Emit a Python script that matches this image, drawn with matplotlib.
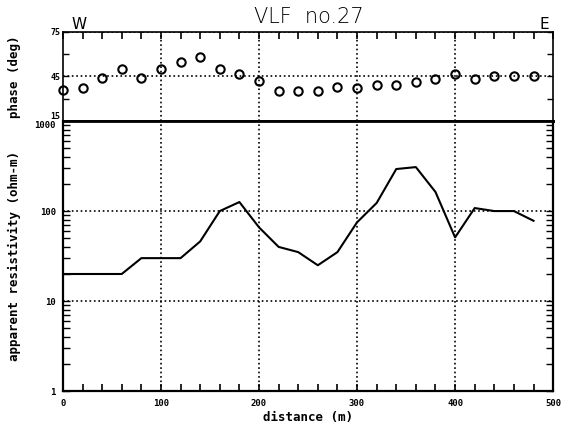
import numpy as np
import matplotlib
matplotlib.use("Agg")
import matplotlib.pyplot as plt
from matplotlib.ticker import FixedLocator, LogLocator, NullFormatter

# station positions (m)
distance = [0, 20, 40, 60, 80, 100, 120, 140, 160, 180, 200, 220, 240,
            260, 280, 300, 320, 340, 360, 380, 400, 420, 440, 460, 480]

# phase (deg)
phase = [36, 37, 44, 50, 44, 50, 55, 58, 50, 47, 42, 35, 35,
         35, 38, 37, 39, 39, 41, 43, 47, 43, 45, 45, 45]

# apparent resistivity (ohm-m)
resistivity = [20, 20, 20, 20, 30, 30, 30, 46, 100, 126, 66, 40, 35,
               25, 35, 75, 123, 293, 308, 163, 51, 108, 100, 100, 78]

x_ticks = [0, 100, 200, 300, 400, 500]
phase_ticks = [15, 45, 75]
res_ticks = [1, 10, 100, 1000]

mono = {'family': 'DejaVu Sans Mono', 'weight': 'bold'}

fig = plt.figure(figsize=(5.72, 4.37), dpi=100)
ax1 = fig.add_axes([0.110, 0.723, 0.857, 0.204])
ax2 = fig.add_axes([0.110, 0.105, 0.857, 0.618])

# phase panel
ax1.plot(distance, phase, 'o', mfc='none', mec='black', ms=6, mew=1.5,
         clip_on=False, zorder=3)
ax1.set_xlim(0, 500)
ax1.set_ylim(15, 75)
ax1.set_yticks(phase_ticks)
ax1.set_yticklabels([str(v) for v in phase_ticks], fontsize=6, **mono)
ax1.yaxis.set_minor_locator(FixedLocator([30, 60]))
ax1.set_xticks([100, 200, 300, 400])
ax1.xaxis.set_minor_locator(FixedLocator(np.arange(0, 501, 20)))
ax1.tick_params(axis='x', which='both', direction='in', top=True,
                bottom=False, labelbottom=False, length=5, width=1.2)
ax1.tick_params(axis='y', which='both', direction='in', right=True,
                length=4, width=1, pad=2)
ax1.grid(True, which='major', linestyle=':', color='black', linewidth=1.2)
ax1.set_ylabel('phase (deg)', fontsize=9, **mono)
for s in ax1.spines.values():
    s.set_linewidth(1.2)
ax1.spines['bottom'].set_linewidth(2)
ax1.get_yticklabels()[0].set_va('bottom')

fig.text(0.54, 0.962, 'VLF  no.27', ha='center', va='center',
         fontsize=15, family='DejaVu Sans', fontweight='light')
fig.text(0.125, 0.945, 'W', ha='left', va='center', fontsize=11,
         family='DejaVu Sans')
fig.text(0.951, 0.945, 'E', ha='center', va='center', fontsize=11,
         family='DejaVu Sans')

# resistivity panel
ax2.plot(distance, resistivity, color='black', linewidth=1.5)
ax2.set_xlim(0, 500)
ax2.set_yscale('log')
ax2.set_ylim(1, 1000)
ax2.set_yticks(res_ticks)
ax2.set_yticklabels([str(v) for v in res_ticks], fontsize=6.5, **mono)
ax2.yaxis.set_minor_locator(LogLocator(base=10, subs=np.arange(2, 10)))
ax2.yaxis.set_minor_formatter(NullFormatter())
ax2.set_xticks(x_ticks)
ax2.set_xticklabels([str(v) for v in x_ticks], fontsize=6.5, **mono)
ax2.xaxis.set_minor_locator(FixedLocator(np.arange(0, 501, 20)))
ax2.tick_params(axis='x', which='both', direction='in', length=5,
                width=1.2, pad=6)
ax2.tick_params(axis='y', which='both', direction='in', right=True,
                length=5, width=1, pad=5)
ax2.grid(True, which='major', linestyle=':', color='black', linewidth=1.2)
ax2.set_xlabel('distance (m)', fontsize=9, labelpad=2, **mono)
ax2.set_ylabel('apparent resistivity (ohm-m)', fontsize=9, **mono)
for s in ax2.spines.values():
    s.set_linewidth(1.6)
ax2.spines['top'].set_linewidth(2)
ax2.get_yticklabels()[-1].set_va('top')

ax1.yaxis.set_label_coords(-0.085, 0.5)
ax2.yaxis.set_label_coords(-0.085, 0.5)

fig.savefig('out.png', dpi=100)
